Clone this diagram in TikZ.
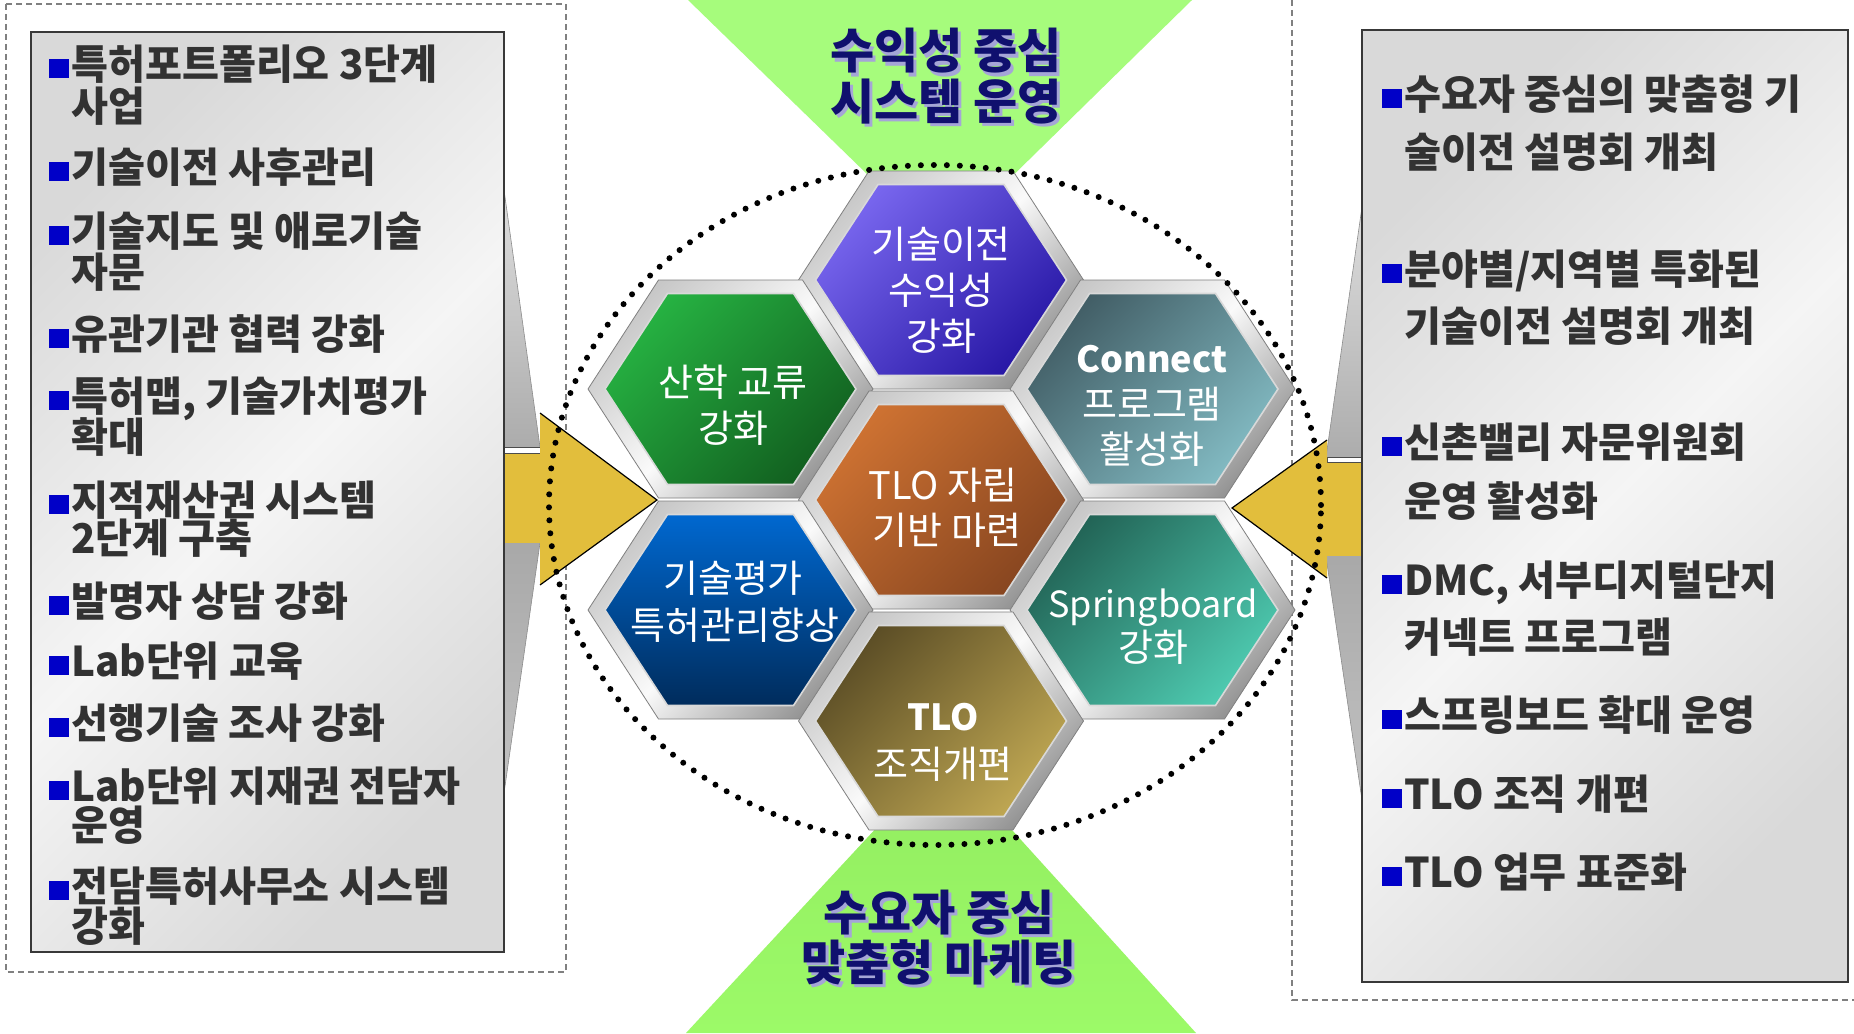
\documentclass[tikz,border=0pt]{standalone}
\usepackage{fontspec}
\newfontfamily\kr{Noto Sans CJK KR}
\newfontfamily\krc[FakeStretch=0.98]{Noto Sans CJK KR}
\usetikzlibrary{calc}
\definecolor{yel}{RGB}{226,190,60}
\definecolor{navy}{RGB}{16,16,110}
\definecolor{shlav}{RGB}{165,165,215}
\definecolor{txtgray}{RGB}{50,50,50}
\definecolor{bulblue}{RGB}{0,0,200}
\definecolor{gtop}{RGB}{166,252,124}
\definecolor{gbotA}{RGB}{146,236,96}
\definecolor{gbotB}{RGB}{156,250,104}
\newcommand\hexcell[4]{%
  \path[frame, shift={(#1)}] (-142.5,0) -- (-72,109) -- (72,109) -- (142.5,0) -- (72,-109) -- (-72,-109) -- cycle;
  \path[hexin, shift={(#1)}, top color=#2, bottom color=#3, shading angle=#4] (-125.5,0) -- (-63,95.5) -- (63,95.5) -- (125.5,0) -- (63,-95.5) -- (-63,-95.5) -- cycle;}
\newcommand\litem[4]{%
  \node[bul, anchor=south west] (#1b) at (#2-22,#3-1) {};
  \node[ltxt, anchor=base west] (#1) at (#2,#3) {#4};}
\newcommand\lcont[4]{%
  \node[ltxt, anchor=base west] (#1) at (#2,#3) {#4};}
\begin{document}
\begin{tikzpicture}[x=1pt,y=-1pt,
  dbox/.style={draw=black!50, line width=1.2pt, dash pattern=on 6pt off 4pt},
  gbox/.style={draw=black!78, line width=2pt, top color=black!15, bottom color=black!15, middle color=black!4, shading angle=45},
  wedge/.style={draw=black!45, line width=0.6pt, top color=black!13, bottom color=black!24, middle color=black!36},
  frame/.style={draw=black!50, line width=0.8pt, top color=black!22, bottom color=black!42, middle color=black!2, shading angle=45},
  hexin/.style={draw=white!85!black, line width=1.6pt},
  hextxt/.style={text=white, font=\kr\fontsize{38}{42}\selectfont, inner sep=0pt},
  hexlat/.style={text=white, font=\kr\fontsize{36}{40}\selectfont, inner sep=0pt},
  hexbold/.style={text=white, font=\kr\bfseries\fontsize{36}{40}\selectfont, inner sep=0pt},
  ltxt/.style={text=txtgray, font=\krc\bfseries\fontsize{41}{46}\selectfont, inner sep=0pt},
  bul/.style={fill=bulblue, minimum width=20pt, minimum height=19pt, inner sep=0pt},
  ttl/.style={text=navy, font=\kr\bfseries\fontsize{48}{50}\selectfont, inner sep=0pt},
  ttlsh/.style={text=shlav, font=\kr\bfseries\fontsize{48}{50}\selectfont, inner sep=0pt},
  dots/.style={line width=6pt, dash pattern=on 0pt off 13pt, line cap=round}
]
\useasboundingbox (0,0) rectangle (1854,1033);
\fill[white] (0,0) rectangle (1854,1033);

% dashed frames
\draw[dbox] (6,4) rectangle (566,972);
\draw[dbox] (1292,-10) rectangle (1872,1000);

% callout wedges
\path[wedge] (504,190) -- (540,447) -- (540,543) -- (504,793) -- cycle;
\path[wedge] (1362,207) -- (1326,457) -- (1326,557) -- (1362,800) -- cycle;

% yellow block arrows
\fill[yel] (504,453) rectangle (540,543);
\draw[fill=white, draw=black!70, line width=0.8pt] (504,447) rectangle (540,453);
\fill[yel] (540,413) -- (657,500) -- (540,585) -- cycle;
\draw[black, line width=1.2pt] (540,413) -- (657,500) -- (540,585);
\fill[yel] (1327,462) rectangle (1362,556);
\draw[fill=white, draw=black!70, line width=0.8pt] (1327,457) rectangle (1362,462);
\fill[yel] (1327,440) -- (1232,508) -- (1327,578) -- cycle;
\draw[black, line width=1.2pt] (1327,440) -- (1232,508) -- (1327,578);

% grey list boxes
\path[gbox] (31,32) rectangle (504,952);
\path[gbox] (1362,30) rectangle (1848,982);

% green funnels
\fill[gtop] (688,0) -- (1192,0) -- (941,246) -- cycle;
\path[top color=gbotA, bottom color=gbotB] (686,1033) -- (1196,1033) -- (944,755) -- cycle;

% hexagons
\coordinate (hT) at (941,280);
\coordinate (hUL) at (730.5,389);
\coordinate (hUR) at (1152.5,389);
\coordinate (hC) at (941,500);
\coordinate (hLL) at (730.5,610);
\coordinate (hLR) at (1152.5,610);
\coordinate (hB) at (941,721);
\hexcell{hT}{{rgb,255:red,120;green,102;blue,238}}{{rgb,255:red,40;green,24;blue,166}}{45}
\hexcell{hUL}{{rgb,255:red,38;green,178;blue,66}}{{rgb,255:red,18;green,96;blue,32}}{45}
\hexcell{hUR}{{rgb,255:red,66;green,94;blue,102}}{{rgb,255:red,130;green,186;blue,194}}{45}
\hexcell{hC}{{rgb,255:red,206;green,114;blue,50}}{{rgb,255:red,136;green,70;blue,32}}{45}
\hexcell{hLL}{{rgb,255:red,0;green,104;blue,208}}{{rgb,255:red,0;green,44;blue,92}}{0}
\hexcell{hLR}{{rgb,255:red,34;green,100;blue,86}}{{rgb,255:red,78;green,202;blue,176}}{45}
\hexcell{hB}{{rgb,255:red,92;green,78;blue,38}}{{rgb,255:red,190;green,166;blue,82}}{45}

% dotted ring
\draw[dots] (935,505) ellipse [x radius=386pt, y radius=340pt];

% hexagon labels
\node[hextxt, anchor=base] (tT1) at (941,258) {기술이전};
\node[hextxt, anchor=base] (tT2) at (941,304) {수익성};
\node[hextxt, anchor=base] (tT3) at (941,350) {강화};
\node[hextxt, anchor=base] (tUL1) at (733,396) {산학 교류};
\node[hextxt, anchor=base] (tUL2) at (733,442) {강화};
\node[hexbold, anchor=base] (tUR1) at (1152,372) {Connect};
\node[hextxt, anchor=base] (tUR2) at (1152,418) {프로그램};
\node[hextxt, anchor=base] (tUR3) at (1152,463) {활성화};
\node[hextxt, anchor=base] (tC1) at (943,499) {TLO 자립};
\node[hextxt, anchor=base] (tC2) at (947,544) {기반 마련};
\node[hextxt, anchor=base] (tLL1) at (733,592) {기술평가};
\node[hextxt, anchor=base] (tLL2) at (735,639) {특허관리향상};
\node[hexlat, anchor=base] (tLR1) at (1153,617) {Springboard};
\node[hextxt, anchor=base] (tLR2) at (1153,661) {강화};
\node[hexbold, anchor=base] (tB1) at (943,730) {TLO};
\node[hextxt, anchor=base] (tB2) at (943,778) {조직개편};

% titles
\node[ttlsh, anchor=base] (top1s) at (949,72) {수익성 중심};
\node[ttlsh, anchor=base] (top2s) at (949,122) {시스템 운영};
\node[ttl, anchor=base] (top1) at (946,69) {수익성 중심};
\node[ttl, anchor=base] (top2) at (946,119) {시스템 운영};
\node[ttlsh, anchor=base] (bot1s) at (942,933) {수요자 중심};
\node[ttlsh, anchor=base] (bot2s) at (942,983) {맞춤형 마케팅};
\node[ttl, anchor=base] (bot1) at (939,930) {수요자 중심};
\node[ttl, anchor=base] (bot2) at (939,980) {맞춤형 마케팅};

% left list
\litem{L1}{71}{79}{특허포트폴리오 3단계}
\lcont{L2}{71}{121}{사업}
\litem{L3}{71}{182}{기술이전 사후관리}
\litem{L4}{71}{246}{기술지도 및 애로기술}
\lcont{L5}{71}{287}{자문}
\litem{L6}{71}{349}{유관기관 협력 강화}
\litem{L7}{71}{411}{특허맵, 기술가치평가}
\lcont{L8}{71}{452}{확대}
\litem{L9}{71}{515}{지적재산권 시스템}
\lcont{L10}{71}{553}{2단계 구축}
\litem{L11}{71}{616}{발명자 상담 강화}
\litem{L12}{71}{676}{Lab단위 교육}
\litem{L13}{71}{738}{선행기술 조사 강화}
\litem{L14}{71}{801}{Lab단위 지재권 전담자}
\lcont{L15}{71}{840}{운영}
\litem{L16}{71}{901}{전담특허사무소 시스템}
\lcont{L17}{71}{941}{강화}

% right list
\litem{R1}{1404}{109}{수요자 중심의 맞춤형 기}
\lcont{R2}{1404}{167}{술이전 설명회 개최}
\litem{R3}{1404}{284}{분야별/지역별 특화된}
\lcont{R4}{1404}{341}{기술이전 설명회 개최}
\litem{R5}{1404}{457}{신촌밸리 자문위원회}
\lcont{R6}{1404}{516}{운영 활성화}
\litem{R7}{1404}{595}{DMC, 서부디지털단지}
\lcont{R8}{1404}{652}{커넥트 프로그램}
\litem{R9}{1404}{730}{스프링보드 확대 운영}
\litem{R10}{1404}{809}{TLO 조직 개편}
\litem{R11}{1404}{887}{TLO 업무 표준화}
\end{tikzpicture}
\end{document}
